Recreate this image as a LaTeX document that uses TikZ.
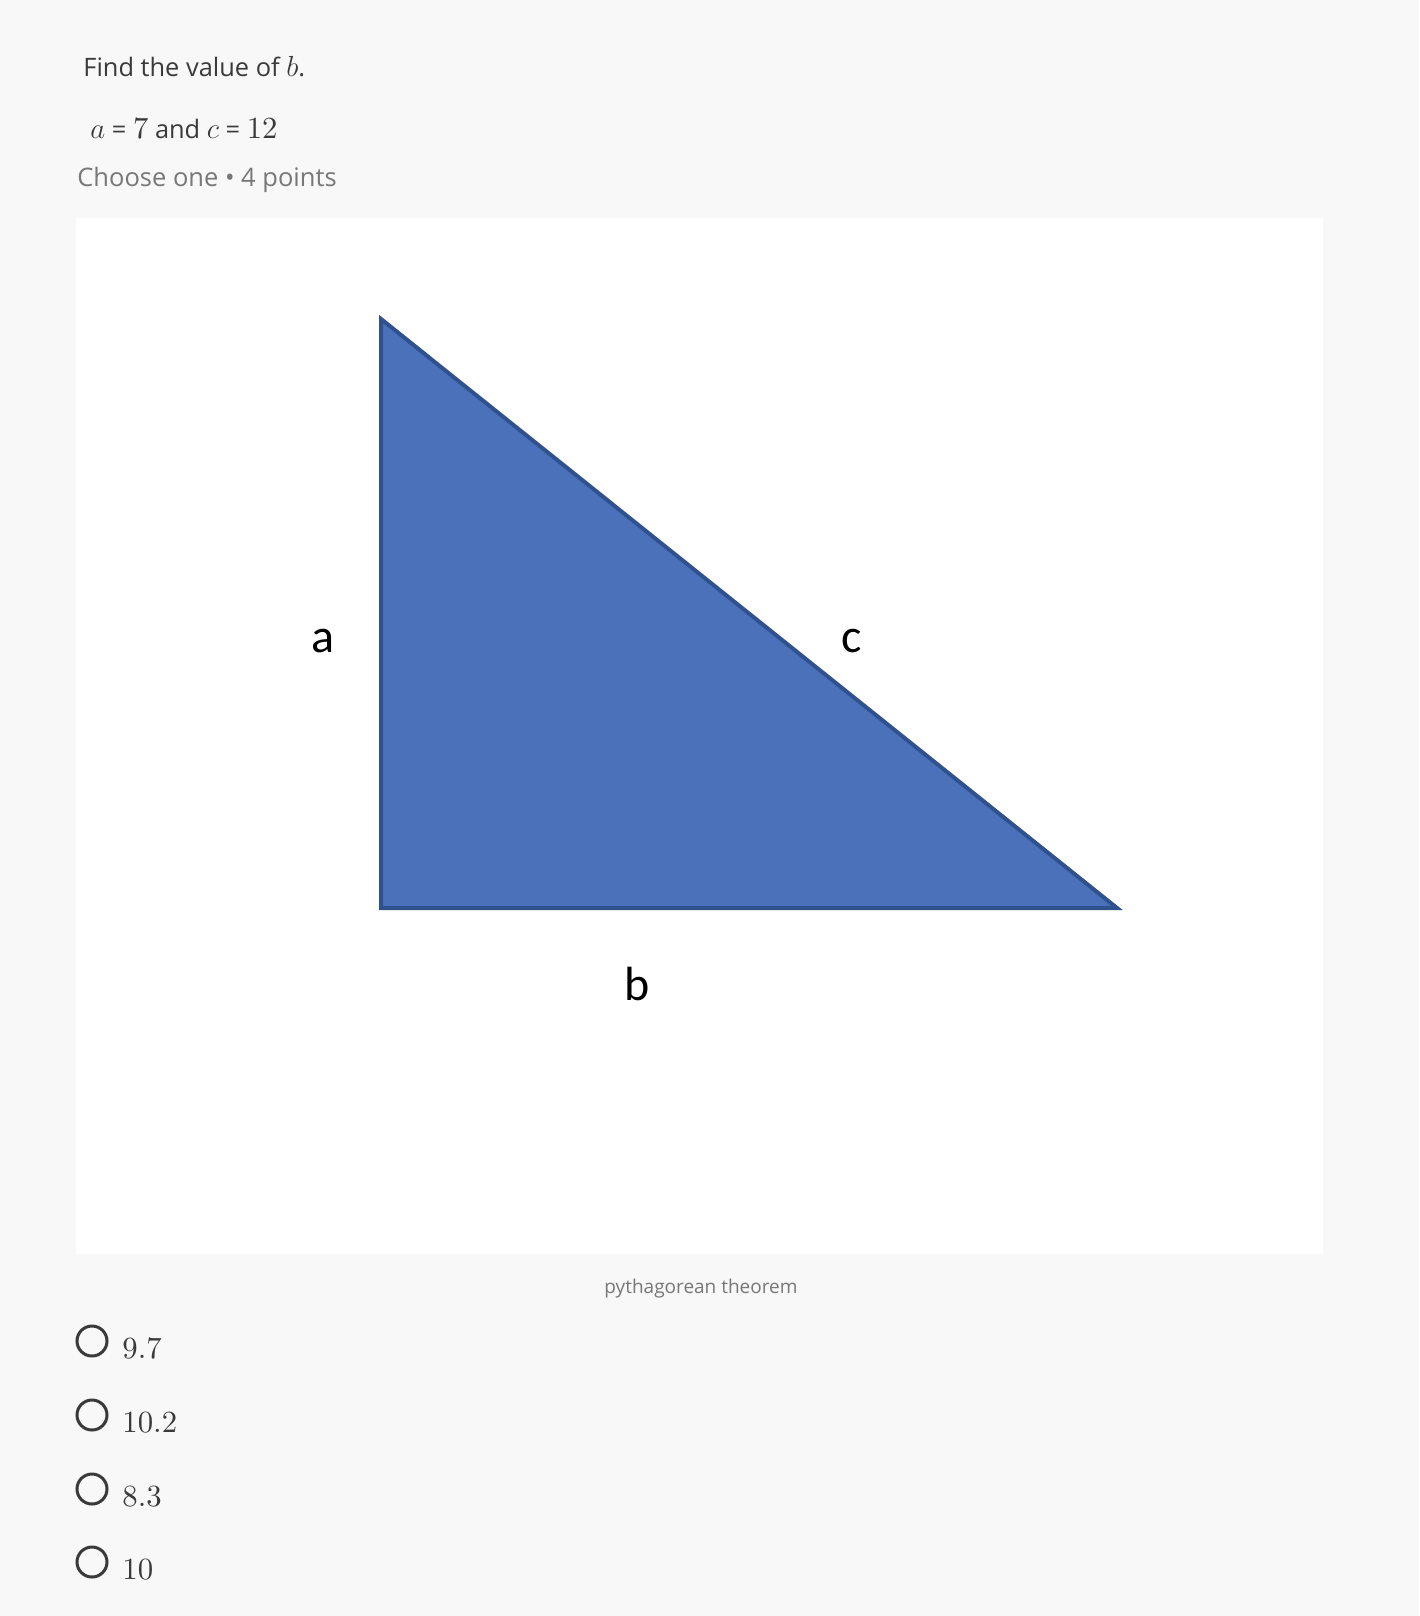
\documentclass[tikz,border=0pt]{standalone}
\usepackage{fontspec}
\setmainfont{Open Sans}
\newfontfamily\labelfont{Carlito}
\newfontfamily\numfont{lmroman10-regular.otf}
\usetikzlibrary{positioning}

\definecolor{pagebg}{HTML}{F8F8F8}
\definecolor{textgrey}{HTML}{3A3A3A}
\definecolor{softgrey}{HTML}{777777}
\definecolor{trifill}{HTML}{4C71BB}
\definecolor{triline}{HTML}{2F528F}

\newcommand{\mvar}[1]{\scalebox{1.21}{$#1$}}
\newcommand{\mnum}[1]{\scalebox{1.21}{\numfont #1}}

\tikzset{
  question/.style={anchor=base west,inner sep=0pt,text=textgrey,font=\fontsize{12.7}{15}\selectfont},
  sidelabel/.style={anchor=base,inner sep=0pt,font=\labelfont\fontsize{24}{28}\selectfont},
  radio/.style={circle,draw=textgrey,line width=1.5pt,minimum size=15pt,inner sep=0pt},
  answer/.style={anchor=base west,inner sep=0pt,text=textgrey,font=\numfont\fontsize{15.4}{18}\selectfont}
}

\begin{document}
\begin{tikzpicture}[x=0.5pt,y=-0.5pt]
    \fill[pagebg] (0,0) rectangle (1419,1616);
    \useasboundingbox (0,0) rectangle (1419,1616);
    % header
    \node[question] (q1) at (83,77) {Find the value of \mvar{b}.};
    \node[question] (q2) at (90,139) {\mvar{a} = \mnum{7} and \mvar{c} = \mnum{12}};
    \node[question,text=softgrey,font=\fontsize{12.75}{15}\selectfont] (q3) at (77,186) {Choose one \textbullet\ 4 points};
    % picture panel
    \fill[white] (76,218) rectangle (1323,1254);
    \coordinate (top) at (381,319);
    \coordinate (corner) at (381,908);
    \coordinate (right) at (1117,908);
    \draw[fill=trifill,draw=triline,line width=2pt,line join=miter] (top) -- (corner) -- (right) -- cycle;
    \node[sidelabel] (la) at (323,652) {a};
    \node[sidelabel] (lc) at (852,652) {c};
    \node[sidelabel] (lb) at (637,1000) {b};
    \node[anchor=base,inner sep=0pt,text=softgrey,font=\fontsize{9.5}{11}\selectfont] (cap) at (701,1293) {pythagorean theorem};
    % choices
    \node[radio] (r1) at (92,1341) {};
    \node[radio] (r2) at (92,1415) {};
    \node[radio] (r3) at (92,1489) {};
    \node[radio] (r4) at (92,1562) {};
    \node[answer] (o1) at (122,1358) {9.7};
    \node[answer] (o2) at (122,1432) {10.2};
    \node[answer] (o3) at (122,1506) {8.3};
    \node[answer] (o4) at (122,1579) {10};
\end{tikzpicture}
\end{document}
